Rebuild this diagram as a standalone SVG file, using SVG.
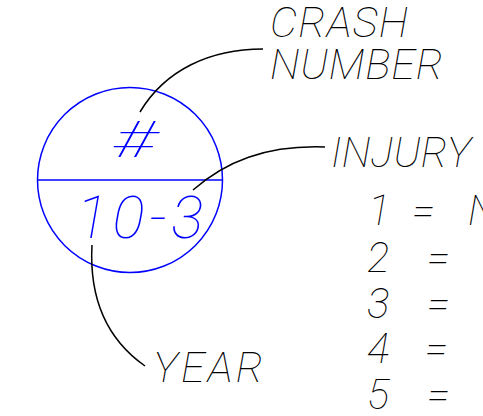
<svg xmlns="http://www.w3.org/2000/svg" width="483" height="416" viewBox="0 0 483 416">
<style>
.lbl{font-family:Roboto,"Liberation Sans",sans-serif;font-weight:100;font-style:italic;fill:#000}
.blue{font-family:Roboto,"Liberation Sans",sans-serif;font-weight:100;font-style:italic;fill:#0000ff}
.conn{fill:none;stroke:#000;stroke-width:1.5}
</style>
<rect width="483" height="416" fill="#fff"/>
<g id="symbol">
<circle cx="130" cy="180" r="92.5" fill="none" stroke="#0000ff" stroke-width="1.5"/>
<line x1="37.5" y1="180" x2="222.5" y2="180" stroke="#0000ff" stroke-width="1.5"/>
<text class="blue" x="113" y="157" font-size="50" textLength="42" lengthAdjust="spacingAndGlyphs">#</text>
<text class="blue" x="76" y="238" font-size="60" textLength="127" lengthAdjust="spacing">10-3</text>
</g>
<g id="connectors">
<path class="conn" d="M140,112 C165,70 210,49 263,49"/>
<path class="conn" d="M193,190 C225,162 265,145 325,147"/>
<path class="conn" d="M92,245 C89,300 108,340 145,366"/>
</g>
<g id="crash-number">
<text class="lbl" x="270" y="37" font-size="43" textLength="138" lengthAdjust="spacing">CRASH</text>
<text class="lbl" x="270" y="79" font-size="43" textLength="173" lengthAdjust="spacing">NUMBER</text>
</g>
<g id="injury">
<text class="lbl" x="331" y="167" font-size="42" textLength="140" lengthAdjust="spacing">INJURY</text>
<g id="row1"><text class="lbl" x="368" y="225" font-size="42">1</text><text class="lbl" x="412" y="225" font-size="42">=</text><text class="lbl" x="468" y="225" font-size="42">N</text></g>
<g id="row2"><text class="lbl" x="367" y="272" font-size="42">2</text><text class="lbl" x="427" y="272" font-size="42">=</text></g>
<g id="row3"><text class="lbl" x="367" y="318" font-size="42">3</text><text class="lbl" x="427" y="318" font-size="42">=</text></g>
<g id="row4"><text class="lbl" x="367" y="363" font-size="42">4</text><text class="lbl" x="425" y="363" font-size="42">=</text></g>
<g id="row5"><text class="lbl" x="367" y="409" font-size="42">5</text><text class="lbl" x="427" y="409" font-size="42">=</text></g>
</g>
<g id="year">
<text class="lbl" x="153" y="382" font-size="43" textLength="110" lengthAdjust="spacing">YEAR</text>
</g>
</svg>
